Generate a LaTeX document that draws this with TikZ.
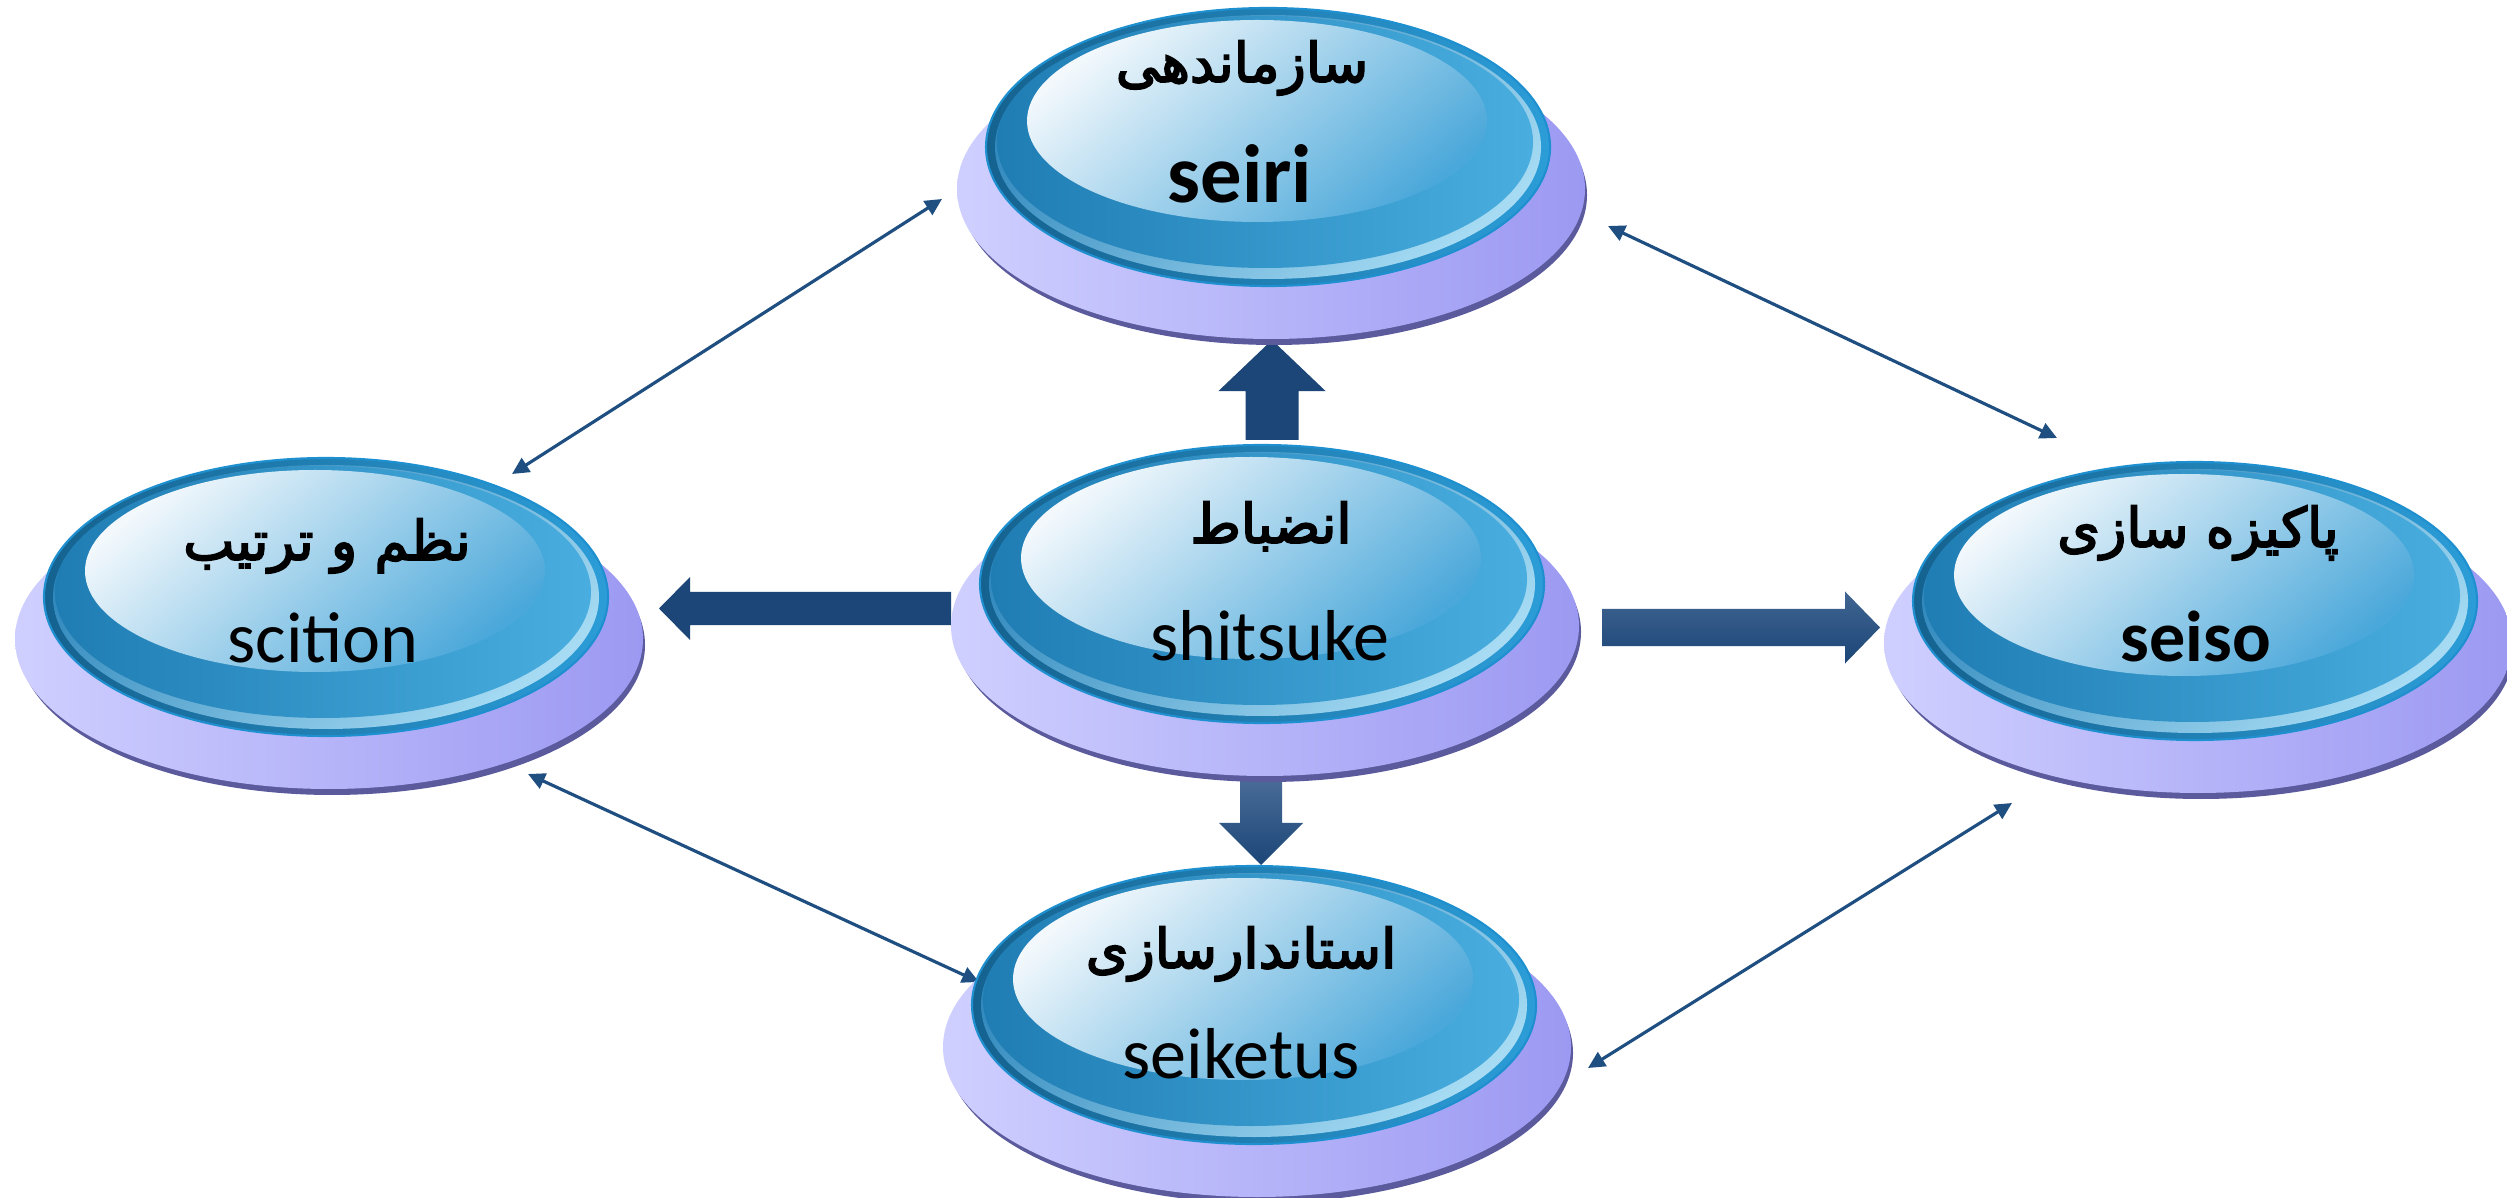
\documentclass[tikz,border=0pt]{standalone}
\usepackage{fontspec}
\setmainfont{Carlito}
\newfontfamily\arabicfont[Script=Arabic,FakeBold=3.2]{DejaVu Sans}
\TeXXeTstate=1
\usetikzlibrary{arrows.meta,calc}

\definecolor{rimc}{HTML}{5B5A9C}
\definecolor{baseL}{HTML}{CFCFFF}
\definecolor{baseR}{HTML}{9C99F2}
\definecolor{discL}{HTML}{15628F}
\definecolor{discR}{HTML}{2C9DD8}
\definecolor{discEdge}{HTML}{1E8FCF}
\definecolor{hiA}{HTML}{2A84BA}
\definecolor{hiB}{HTML}{A6DBF3}
\definecolor{ringL}{HTML}{1F7DB4}
\definecolor{ringR}{HTML}{49AEDF}
\definecolor{faceA}{HTML}{F2F8FC}
\definecolor{faceB}{HTML}{4BA8DA}
\definecolor{navy}{HTML}{1B4677}
\definecolor{navyLight}{HTML}{4A6C98}
\definecolor{thinc}{HTML}{1F4E80}

\tikzset{
  x=0.01cm, y=-0.01cm,
  thinarrow/.style={draw=thinc, line width=0.9pt,
    {Triangle[length=4.8pt,width=4.6pt]}-{Triangle[length=4.8pt,width=4.6pt]}},
  fasiname/.style={anchor=base, font=\arabicfont\fontsize{15.5}{18}\selectfont},
  latinreg/.style={anchor=base, font=\fontsize{20.5}{24}\selectfont},
  latinbold/.style={anchor=base, font=\bfseries\fontsize{20.5}{24}\selectfont},
}

% disc group drawn around a named centre coordinate
\newcommand\fivesdisc[1]{%
  \fill[rimc] ($(#1)+(6,48)$) ellipse [x radius=313, y radius=150];
  \shade[left color=baseL, right color=baseR] ($(#1)+(3,42)$) ellipse [x radius=314, y radius=150];
  \shadedraw[left color=discL, right color=discR, draw=discEdge, line width=0.6pt] (#1) ellipse [x radius=282, y radius=139];
  \shade[top color=hiA, bottom color=hiB, shading angle=40] (#1) ellipse [x radius=273, y radius=132];
  \shade[left color=ringL, right color=ringR] ($(#1)+(-3,-5)$) ellipse [x radius=268, y radius=126];
  \shade[top color=faceA, bottom color=faceB, shading angle=40] ($(#1)+(-11,-26)$) ellipse [x radius=230, y radius=101];
}

% block arrow: style, start, tip, shaft half width, head half width, head length
\newcommand\blockarrow[6]{%
  \path[#1] ($(#2)!#4!90:(#3)$) --
    ($($(#3)!#6!(#2)$)!#4!90:(#3)$) --
    ($($(#3)!#6!(#2)$)!#5!90:(#3)$) --
    (#3) --
    ($($(#3)!#6!(#2)$)!#5!-90:(#3)$) --
    ($($(#3)!#6!(#2)$)!#4!-90:(#3)$) --
    ($(#2)!#4!-90:(#3)$) -- cycle;
}

\begin{document}
\begin{tikzpicture}
\fill[white] (0,0) rectangle (2507,1198);
\useasboundingbox (0,0) rectangle (2507,1198);

% centres
\coordinate (cTop) at (1268,147);
\coordinate (cMid) at (1262,584);
\coordinate (cLeft) at (326,597);
\coordinate (cRight) at (2195,601);
\coordinate (cBot) at (1254,1005);

% block arrow ends
\coordinate (upS) at (1272,440);   \coordinate (upT) at (1272,340);
\coordinate (dnS) at (1261,778);   \coordinate (dnT) at (1261,865);
\coordinate (lfS) at (951,608.5);  \coordinate (lfT) at (659,608.5);
\coordinate (rtS) at (1602,627.5); \coordinate (rtT) at (1880,627.5);

% thin arrow ends
\coordinate (tlA) at (512,474);   \coordinate (tlB) at (942,199);
\coordinate (trA) at (1608,226);  \coordinate (trB) at (2057,438);
\coordinate (blA) at (528,774);   \coordinate (blB) at (979,982);
\coordinate (brA) at (1588,1068); \coordinate (brB) at (2012,803);

\blockarrow{fill=navy}{upS}{upT}{0.265cm}{0.535cm}{0.51cm}
\blockarrow{top color=navyLight, bottom color=navy}{dnS}{dnT}{0.21cm}{0.42cm}{0.42cm}
\blockarrow{fill=navy}{lfS}{lfT}{0.165cm}{0.315cm}{0.31cm}
\blockarrow{top color=navyLight!80!navy, bottom color=navy}{rtS}{rtT}{0.185cm}{0.36cm}{0.35cm}

\draw[thinarrow] (tlA) -- (tlB);
\draw[thinarrow] (trA) -- (trB);
\draw[thinarrow] (blA) -- (blB);
\draw[thinarrow] (brA) -- (brB);

\fivesdisc{cTop}
\fivesdisc{cMid}
\fivesdisc{cLeft}
\fivesdisc{cRight}
\fivesdisc{cBot}

% texts
\node[fasiname] (pTop) at (1242,82) {\beginR سازماندهی\endR};
\node[latinbold, font=\bfseries\fontsize{23.5}{27}\selectfont] (lTop) at (1240,203) {seiri};

\node[fasiname] (pMid) at (1271,543) {\beginR انضباط\endR};
\node[latinreg] (lMid) at (1270,661) {shitsuke};

\node[fasiname] (pLeft) at (327,560) {\beginR نظم و ترتیب\endR};
\node[latinreg] (lLeft) at (323,663) {scition};

\node[fasiname] (pRight) at (2198,547) {\beginR پاکیزه سازی\endR};
\node[latinbold] (lRight) at (2196,662) {seiso};

\node[fasiname] (pBot) at (1241,968) {\beginR استاندارسازی\endR};
\node[latinreg] (lBot) at (1241,1078) {seiketus};
\end{tikzpicture}
\end{document}
